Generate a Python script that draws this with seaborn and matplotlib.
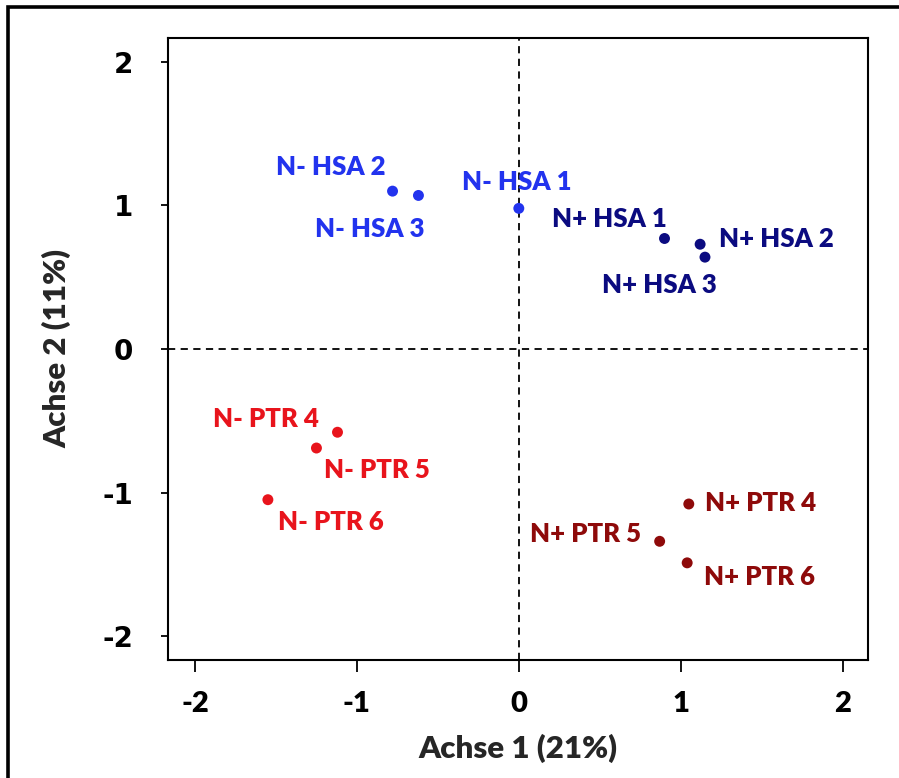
import matplotlib
matplotlib.use("Agg")
import matplotlib.pyplot as plt
from matplotlib.patches import Rectangle
import seaborn as sns
import pandas as pd

# Sample scores on the first two ordination axes
samples = ["N- HSA 1", "N- HSA 2", "N- HSA 3",
           "N+ HSA 1", "N+ HSA 2", "N+ HSA 3",
           "N- PTR 4", "N- PTR 5", "N- PTR 6",
           "N+ PTR 4", "N+ PTR 5", "N+ PTR 6"]
groups = ["N- HSA"] * 3 + ["N+ HSA"] * 3 + ["N- PTR"] * 3 + ["N+ PTR"] * 3
axis1 = [0.00, -0.78, -0.62,
         0.90, 1.12, 1.15,
         -1.12, -1.25, -1.55,
         1.05, 0.87, 1.04]
axis2 = [0.98, 1.10, 1.07,
         0.77, 0.73, 0.64,
         -0.58, -0.69, -1.05,
         -1.08, -1.34, -1.49]
x_ticks = [-2, -1, 0, 1, 2]
y_ticks = [-2, -1, 0, 1, 2]
x_title = "Achse 1 (21%)"
y_title = "Achse 2 (11%)"

palette = {"N- HSA": "#2233EE", "N+ HSA": "#0B0B80",
           "N- PTR": "#E8141C", "N+ PTR": "#8E0A0A"}

# label offsets from each point, in pixels (right, down)
label_offsets = {
    "N- HSA 1": (-2, -26), "N- HSA 2": (-62, -24), "N- HSA 3": (-49, 34),
    "N+ HSA 1": (-55, -19), "N+ HSA 2": (76, -5), "N+ HSA 3": (-46, 28),
    "N- PTR 4": (-72, -13), "N- PTR 5": (60, 22), "N- PTR 6": (63, 22),
    "N+ PTR 4": (72, -1), "N+ PTR 5": (-74, -7), "N+ PTR 6": (72, 14),
}

df = pd.DataFrame({"sample": samples, "group": groups,
                   "axis1": axis1, "axis2": axis2})

sns.set_style("white")
plt.rcParams["font.family"] = ["Lato", "DejaVu Sans"]

W, H = 899, 778
fig = plt.figure(figsize=(W / 100, H / 100), dpi=100)
ax = fig.add_axes([168 / W, (H - 660) / H, 700 / W, 622 / H])

ax.axvline(0, color="black", lw=1.3, ls=(0, (4, 3)), zorder=1)
ax.axhline(0, color="black", lw=1.3, ls=(0, (4, 3)), zorder=1)

sns.scatterplot(data=df, x="axis1", y="axis2", hue="group", palette=palette,
                s=62, linewidth=0, legend=False, ax=ax, zorder=3)

px = 72 / 100
for _, row in df.iterrows():
    dx, dy = label_offsets[row["sample"]]
    ax.annotate(row["sample"], (row["axis1"], row["axis2"]),
                xytext=(dx * px, -dy * px), textcoords="offset points",
                ha="center", va="center", fontsize=18.5, fontweight="heavy",
                color=palette[row["group"]], zorder=4)

ax.set_xlim(-2.167, 2.157)
ax.set_ylim(-2.167, 2.167)
ax.set_xticks(x_ticks)
ax.set_yticks(y_ticks)
ax.set_xticklabels([str(v) for v in x_ticks], fontsize=21, fontweight="heavy")
ax.set_yticklabels([str(v) for v in y_ticks], fontsize=20, fontweight="bold",
                   family=["DejaVu Sans"])
ax.tick_params(axis="x", direction="out", length=8.5, width=1.3, pad=14,
               bottom=True, colors="black")
ax.tick_params(axis="y", direction="out", length=5, width=1.3, pad=20,
               left=True, colors="black")
ax.set_xlabel(x_title, fontsize=22.5, fontweight="heavy", labelpad=12)
ax.set_ylabel(y_title, fontsize=22.5, fontweight="heavy", labelpad=22)

for sp in ax.spines.values():
    sp.set_color("black")
    sp.set_linewidth(1.5)

# frame around the whole figure
fig.patches.append(Rectangle((8 / W, -0.05), 1.2, (H - 7) / H + 0.05,
                             transform=fig.transFigure, fill=False,
                             edgecolor="black", lw=2.6, clip_on=False))

fig.savefig("out.png", dpi=100, facecolor="white")
